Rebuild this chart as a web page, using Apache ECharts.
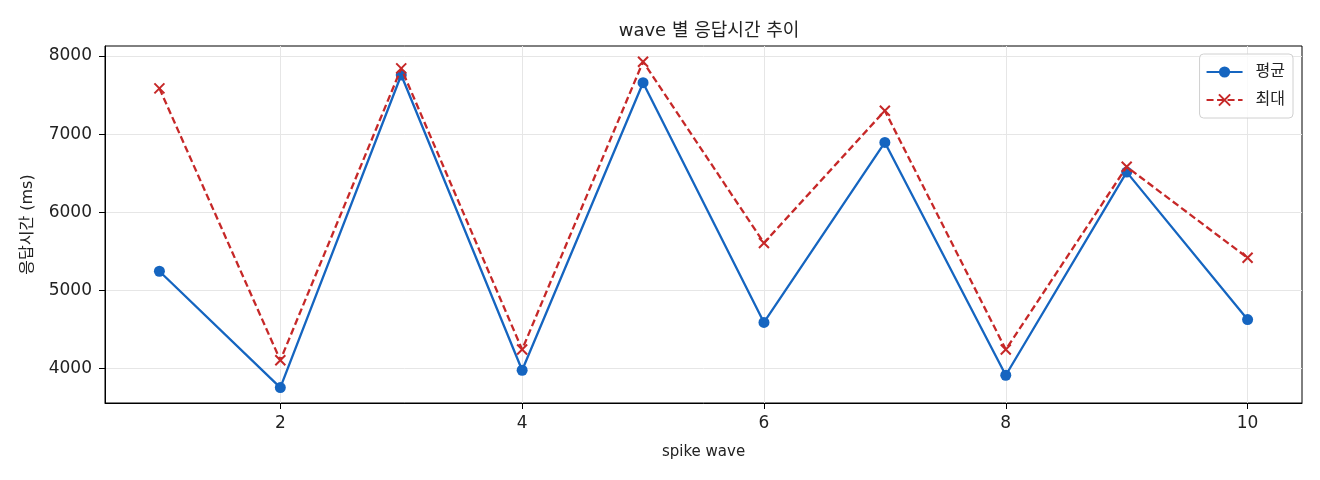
<!DOCTYPE html>
<html>
<head>
<meta charset="utf-8">
<title>wave 별 응답시간 추이</title>
<script src="https://cdn.jsdelivr.net/npm/echarts@6/dist/echarts.min.js"></script>
<style>
  html, body { margin: 0; padding: 0; background: #fff; }
  #chart { width: 1320px; height: 480px; }
</style>
</head>
<body>
<div id="chart"></div>
<script>
// wave 번호
var waves = [1, 2, 3, 4, 5, 6, 7, 8, 9, 10];
// 평균 응답시간 (ms)
var avgMs = [5245, 3756, 7757, 3978, 7658, 4590, 6894, 3914, 6514, 4627];
// 최대 응답시간 (ms)
var maxMs = [7586, 4106, 7842, 4243, 7927, 5607, 7300, 4243, 6582, 5417];
// 눈금
var xTicks = [2, 4, 6, 8, 10];
var yTicks = [4000, 5000, 6000, 7000, 8000];

var FONT = '"DejaVu Sans", "Noto Sans CJK KR", sans-serif';
var BLUE = '#1565c0';
var RED = '#c62828';
var INK = '#222';

function pairs(ys) {
  return waves.map(function (x, i) { return [x, ys[i]]; });
}

var chart = echarts.init(document.getElementById('chart'), null, { renderer: 'canvas' });

var option = {
  animation: false,
  textStyle: { fontFamily: FONT },
  title: {
    text: 'wave 별 응답시간 추이',
    left: 704,
    top: 17,
    textAlign: 'center',
    textStyle: { fontFamily: FONT, fontSize: 18, fontWeight: 'normal', color: INK }
  },
  grid: {
    left: 105, right: 18, top: 46, bottom: 77,
    show: true, borderColor: '#000', borderWidth: 1, backgroundColor: 'transparent'
  },
  legend: {
    orient: 'vertical',
    right: 27,
    top: 54,
    itemWidth: 36,
    itemHeight: 14,
    itemGap: 12,
    padding: [10, 8, 10, 6],
    borderColor: '#d0d0d0',
    borderWidth: 1,
    borderRadius: 4,
    backgroundColor: 'rgba(255,255,255,0.8)',
    textStyle: { fontFamily: FONT, fontSize: 16, color: INK, padding: [0, 0, 0, 8] },
    data: ['평균', '최대']
  },
  xAxis: {
    type: 'value',
    min: 0.55,
    max: 10.45,
    name: 'spike wave',
    nameLocation: 'middle',
    nameGap: 42,
    nameTextStyle: { fontFamily: FONT, fontSize: 15, color: INK },
    axisLine: { show: true, lineStyle: { color: '#000', width: 1 } },
    axisTick: { show: true, length: 6, lineStyle: { color: '#000' }, customValues: xTicks },
    axisLabel: { fontFamily: FONT, fontSize: 17, color: INK, margin: 12, customValues: xTicks },
    splitLine: { show: true, lineStyle: { color: '#e6e6e6', width: 1 } }
  },
  yAxis: {
    type: 'value',
    min: 3559,
    max: 8128,
    name: '응답시간 (ms)',
    nameLocation: 'middle',
    nameGap: 69,
    nameTextStyle: { fontFamily: FONT, fontSize: 16, color: INK },
    axisLine: { show: true, lineStyle: { color: '#000', width: 1 } },
    axisTick: { show: true, length: 6, lineStyle: { color: '#000' }, customValues: yTicks },
    axisLabel: {
      fontFamily: FONT, fontSize: 17, color: INK, margin: 13, customValues: yTicks,
      formatter: function (v) { return String(v); }
    },
    splitLine: { show: true, lineStyle: { color: '#e6e6e6', width: 1 } }
  },
  series: [
    {
      name: '평균',
      type: 'line',
      data: pairs(avgMs),
      symbol: 'circle',
      symbolSize: 11,
      lineStyle: { color: BLUE, width: 2.3 },
      itemStyle: { color: BLUE },
      z: 3
    },
    {
      name: '최대',
      type: 'line',
      data: pairs(maxMs),
      symbol: 'path://M0,0L10,10M10,0L0,10',
      symbolSize: 10,
      lineStyle: { color: RED, width: 2.3, type: [7, 3.5] },
      itemStyle: { color: RED, borderColor: RED, borderWidth: 2 },
      z: 4
    }
  ]
};

chart.setOption(option);
</script>
</body>
</html>
